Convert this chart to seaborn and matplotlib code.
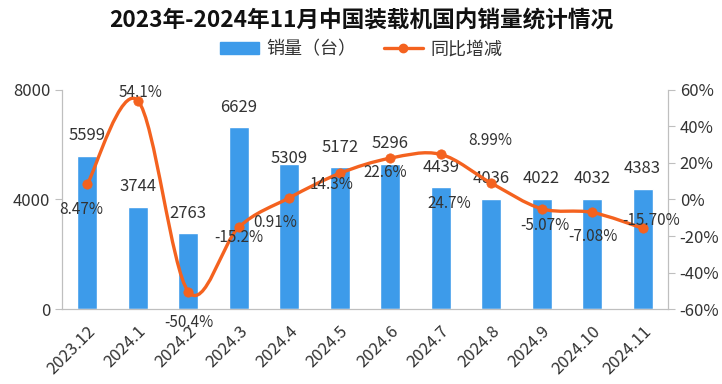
import matplotlib
matplotlib.use("Agg")
import matplotlib.pyplot as plt
import seaborn as sns
import numpy as np
from matplotlib.path import Path
from matplotlib.patches import PathPatch, Patch
from matplotlib.lines import Line2D
from matplotlib.ticker import FuncFormatter

# data
months = ["2023.12", "2024.1", "2024.2", "2024.3", "2024.4", "2024.5",
          "2024.6", "2024.7", "2024.8", "2024.9", "2024.10", "2024.11"]
sales = [5599, 3744, 2763, 6629, 5309, 5172, 5296, 4439, 4036, 4022, 4032, 4383]
yoy = [8.47, 54.1, -50.4, -15.2, 0.91, 14.3, 22.6, 24.7, 8.99, -5.07, -7.08, -15.70]
yoy_labels = ["8.47%", "54.1%", "-50.4%", "-15.2%", "0.91%", "14.3%",
              "22.6%", "24.7%", "8.99%", "-5.07%", "-7.08%", "-15.70%"]

# label placement (pixels)
yoy_offsets = [(-6, -25), (3, 8), (1, -31), (0, -10), (-14, -25), (-8, -11),
               (-5, -14), (9, -49), (-1, 43), (3, -17), (1, -24), (9, 8)]
bar_offsets = [20, 20, 20, 20, 5, 20, 20, 20, 20, 20, 20, 20]

blue = "#3D9BEA"
orange = "#F4621F"
grey = "#BFBFBF"
txt = "#333333"

sns.set_style("white")
plt.rcParams["font.family"] = ["Noto Sans CJK SC", "DejaVu Sans"]

fig = plt.figure(figsize=(7.22, 3.84), dpi=100)
ax = fig.add_axes([0.086, 0.195, 0.839, 0.571])

sns.barplot(x=months, y=sales, color=blue, saturation=1, width=0.4, ax=ax)
ax.set_xlim(-0.5, 11.5)
ax.set_ylim(0, 8000)
ax.set_yticks([0, 4000, 8000])
ax.set_xlabel("")
ax.set_ylabel("")

for i, v in enumerate(sales):
    ax.annotate(str(v), (i, v), xytext=(0, bar_offsets[i]), textcoords="offset pixels",
                ha="center", va="center", fontsize=12, color=txt)

# x ticks: labels at centers, marks between categories
ax.set_xticks(range(len(months)))
ax.set_xticklabels(months, rotation=45, ha="right", rotation_mode="anchor", fontsize=12, color=txt)
ax.set_xticks(np.arange(-0.5, 12, 1), minor=True)
ax.tick_params(axis="x", which="major", length=0, pad=10)
ax.tick_params(axis="x", which="minor", length=5, color=grey, width=1)
ax.tick_params(axis="y", length=5, color=grey, labelsize=12, labelcolor=txt)

ax2 = ax.twinx()
ax2.set_ylim(-60, 60)
ax2.set_yticks(range(-60, 61, 20))
ax2.yaxis.set_major_formatter(FuncFormatter(lambda v, p: f"{v:.0f}%"))
ax2.tick_params(axis="y", length=5, color=grey, labelsize=12, labelcolor=txt)

for a in (ax, ax2):
    for s in a.spines.values():
        s.set_color(grey)
    a.spines["top"].set_visible(False)

# smoothed line (Catmull-Rom as cubic Bezier)
x = np.arange(len(yoy), dtype=float)
y = np.array(yoy, dtype=float)
pts = np.column_stack([x, y])
verts = [pts[0]]
codes = [Path.MOVETO]
for i in range(len(pts) - 1):
    p0 = pts[i - 1] if i > 0 else pts[i]
    p1, p2 = pts[i], pts[i + 1]
    p3 = pts[i + 2] if i + 2 < len(pts) else pts[i + 1]
    verts += [p1 + (p2 - p0) / 6, p2 - (p3 - p1) / 6, p2]
    codes += [Path.CURVE4] * 3
ax2.add_patch(PathPatch(Path(verts, codes), facecolor="none", edgecolor=orange, lw=2.4, zorder=3))
sns.scatterplot(x=x, y=y, color=orange, s=45, edgecolor=orange, ax=ax2, zorder=4, legend=False)

for i, (v, lab) in enumerate(zip(yoy, yoy_labels)):
    ax2.annotate(lab, (i, v), xytext=yoy_offsets[i], textcoords="offset pixels",
                 ha="center", va="center", fontsize=11, color=txt, zorder=5,
                 annotation_clip=False)

fig.suptitle("2023年-2024年11月中国装载机国内销量统计情况", y=0.975, fontsize=16.3,
             fontweight="bold", color="#111111")

handles = [Patch(facecolor=blue, edgecolor=blue),
           Line2D([0], [0], color=orange, lw=2.4, marker="o", markersize=6)]
fig.legend(handles, ["销量（台）", "同比增减"], loc="center", bbox_to_anchor=(0.5, 0.872),
           ncol=2, frameon=False, fontsize=13, handlelength=2.2, columnspacing=1.5,
           handletextpad=0.4, labelcolor=txt)

fig.savefig("out.png", dpi=100)
